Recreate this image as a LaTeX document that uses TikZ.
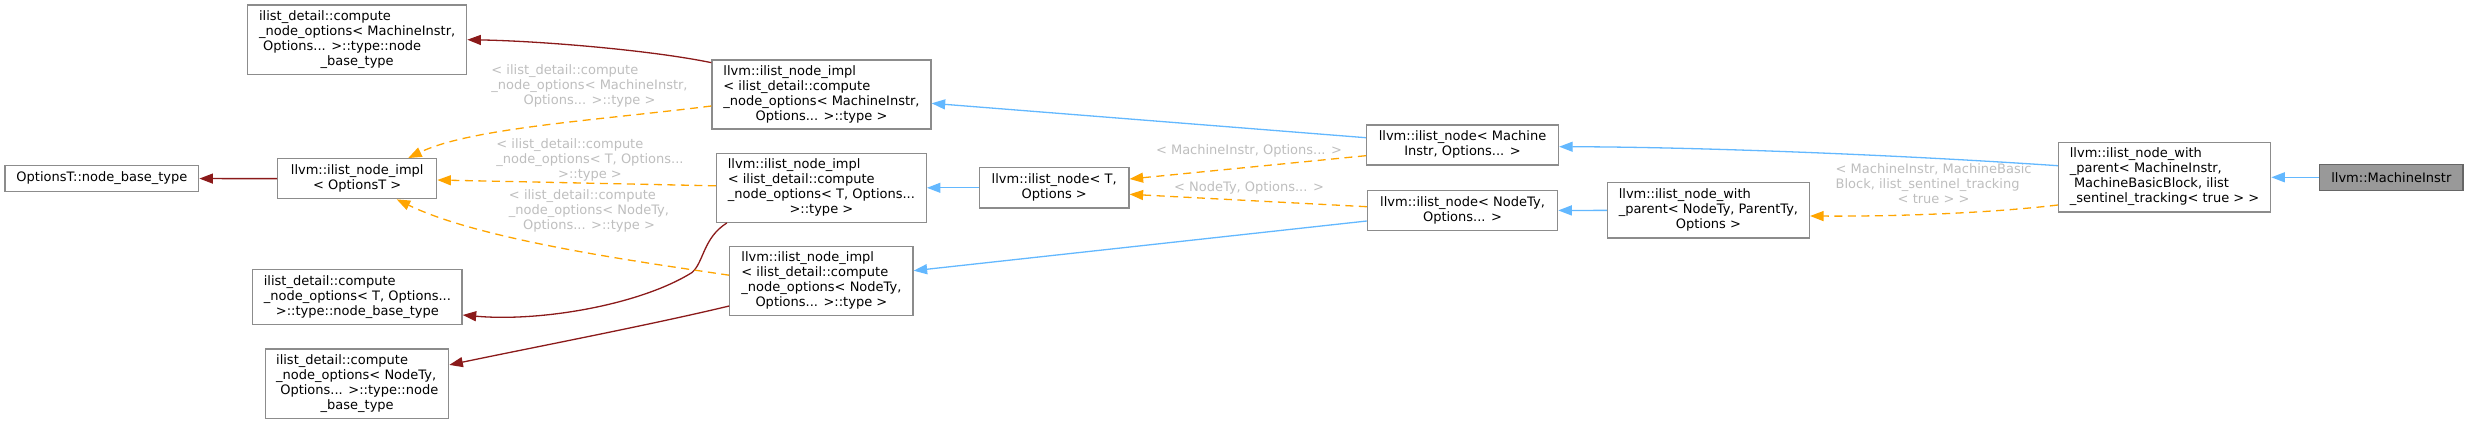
\documentclass[tikz,border=0pt]{standalone}
\usepackage{fontspec}
\setmainfont{DejaVu Sans}
\usetikzlibrary{arrows.meta}
\definecolor{boxgray}{HTML}{8C8C8C}
\definecolor{mibord}{HTML}{666666}
\definecolor{mifill}{HTML}{999999}
\definecolor{inhblue}{HTML}{63B8FF}
\definecolor{usered}{HTML}{8B1A1A}
\definecolor{tmplorange}{HTML}{FFA500}
\definecolor{lblgray}{HTML}{BEBEBE}
\newcommand\nf{\fontsize{13}{15}\selectfont}
\newcommand\ml[2]{\begin{tabular}{@{}l@{}}#1\\\multicolumn{1}{@{}c@{}}{#2}\end{tabular}}
\begin{document}
\begin{tikzpicture}[x=1pt,y=-1pt,
  box/.style={draw=boxgray,fill=white,line width=1.3pt,inner sep=0pt,font=\nf},
  inh/.style={draw=inhblue,line width=1.3pt,-{Triangle[length=13.5pt,width=10pt]}},
  use/.style={draw=usered,line width=1.3pt,-{Triangle[length=13.5pt,width=10pt]}},
  tmpl/.style={draw=tmplorange,line width=1.3pt,dash pattern=on 8pt off 5.5pt,-{Triangle[length=13.5pt,width=10pt]}},
  lbl/.style={text=lblgray,font=\nf,inner sep=0pt}]
\useasboundingbox (0,0) rectangle (2468,424);

% nodes
\node[box,minimum width=193.7pt,minimum height=25.6pt] (optT) at (101.9,178.5) {OptionsT::node\_base\_type};
\node[box,minimum width=159pt,minimum height=40pt] (implOpt) at (357.2,178.7) {\ml{llvm::ilist\_node\_impl}{< OptionsT >}};
\node[box,minimum width=219pt,minimum height=69.3pt] (cnoMI) at (357.2,39.7) {\ml{ilist\_detail::compute\\\_node\_options< MachineInstr,\\\ Options... >::type::node}{\_base\_type}};
\node[box,minimum width=209.3pt,minimum height=54.6pt] (cnoT) at (357.4,297) {\ml{ilist\_detail::compute\\\_node\_options< T, Options...}{>::type::node\_base\_type}};
\node[box,minimum width=183pt,minimum height=69.7pt] (cnoNT) at (357.2,383.9) {\ml{ilist\_detail::compute\\\_node\_options< NodeTy,\\\ Options... >::type::node}{\_base\_type}};
\node[box,minimum width=219pt,minimum height=69pt] (implMI) at (821.5,94.5) {\ml{llvm::ilist\_node\_impl\\< ilist\_detail::compute\\\_node\_options< MachineInstr,}{Options... >::type >}};
\node[box,minimum width=209.8pt,minimum height=69pt] (implT) at (821.4,187.8) {\ml{llvm::ilist\_node\_impl\\< ilist\_detail::compute\\\_node\_options< T, Options...}{>::type >}};
\node[box,minimum width=183.2pt,minimum height=69pt] (implNT) at (821.4,281.2) {\ml{llvm::ilist\_node\_impl\\< ilist\_detail::compute\\\_node\_options< NodeTy,}{Options... >::type >}};
\node[box,minimum width=149.5pt,minimum height=40.3pt] (nodeT) at (1054.2,187.8) {\ml{llvm::ilist\_node< T,}{Options >}};
\node[box,minimum width=192pt,minimum height=40pt] (nodeMI) at (1462.5,145) {\ml{llvm::ilist\_node< Machine}{Instr, Options... >}};
\node[box,minimum width=190.2pt,minimum height=39.6pt] (nodeNT) at (1462.5,210.5) {\ml{llvm::ilist\_node< NodeTy,}{Options... >}};
\node[box,minimum width=202pt,minimum height=55.3pt] (withNT) at (1708.4,210.3) {\ml{llvm::ilist\_node\_with\\\_parent< NodeTy, ParentTy,}{Options >}};
\node[box,minimum width=212.2pt,minimum height=69.3pt] (withMI) at (2164.6,177.3) {\ml{llvm::ilist\_node\_with\\\_parent< MachineInstr,\\\ MachineBasicBlock, ilist}{\_sentinel\_tracking< true > >}};
\node[box,draw=mibord,fill=mifill,minimum width=143.3pt,minimum height=26pt] (mi) at (2391.3,177.3) {llvm::MachineInstr};

% edge labels
\node[lbl] (l1) at (589.5,86.6) {\ml{< ilist\_detail::compute\\\_node\_options< MachineInstr,}{Options... >::type >}};
\node[lbl] (l2) at (590,160) {\ml{< ilist\_detail::compute\\\_node\_options< T, Options...}{>::type >}};
\node[lbl] (l3) at (589,211) {\ml{< ilist\_detail::compute\\\_node\_options< NodeTy,}{Options... >::type >}};
\node[lbl] (l4) at (1249,150.7) {< MachineInstr, Options... >};
\node[lbl] (l5) at (1249,187.7) {< NodeTy, Options... >};
\node[lbl] (l6) at (1933.6,185) {\ml{< MachineInstr, MachineBasic\\Block, ilist\_sentinel\_tracking}{< true > >}};

% inheritance
\draw[inh] (mi) -- (withMI);
\draw[inh] ([yshift=11.6pt]withMI.west) .. controls (1900,155) and (1700,147) .. ([yshift=-1.7pt]nodeMI.east);
\draw[inh] (withNT) -- (nodeNT);
\draw[inh] ([yshift=7.3pt]nodeMI.west) -- ([yshift=-8.8pt]implMI.east);
\draw[inh] (nodeT) -- (implT);
\draw[inh] ([yshift=-10.5pt]nodeNT.west) -- ([yshift=10.5pt]implNT.east);

% usage
\draw[use] (implOpt) -- (optT);
\draw[use] ([yshift=-3.3pt]implMI.north west) .. controls (650,50) and (540,41) .. (cnoMI.east);
\draw[use] ([xshift=11pt]implT.south west) .. controls (703,238) and (704,262) .. (692,272.5) .. controls (640,305) and (540,322) .. ([yshift=-18pt]cnoT.east);
\draw[use] ([yshift=-24.8pt]implNT.west) .. controls (650,325) and (530,348) .. ([yshift=19pt]cnoNT.east);

% template instances
\draw[tmpl] ([yshift=-11.5pt]implMI.west) .. controls (600,120) and (470,128) .. ([xshift=51pt]implOpt.north);
\draw[tmpl] ([yshift=2pt]implT.west) -- ([yshift=-1.3pt]implOpt.east);
\draw[tmpl] ([yshift=6pt]implNT.west) .. controls (640,262) and (480,240) .. ([xshift=39.5pt]implOpt.south);
\draw[tmpl] ([yshift=-10.7pt]nodeMI.west) -- ([yshift=8.8pt]nodeT.east);
\draw[tmpl] ([yshift=3.8pt]nodeNT.west) -- ([yshift=-6.5pt]nodeT.east);
\draw[tmpl] ([yshift=-27.7pt]withMI.west) .. controls (1990,213) and (1900,216.5) .. ([yshift=-5.7pt]withNT.east);
\end{tikzpicture}
\end{document}
